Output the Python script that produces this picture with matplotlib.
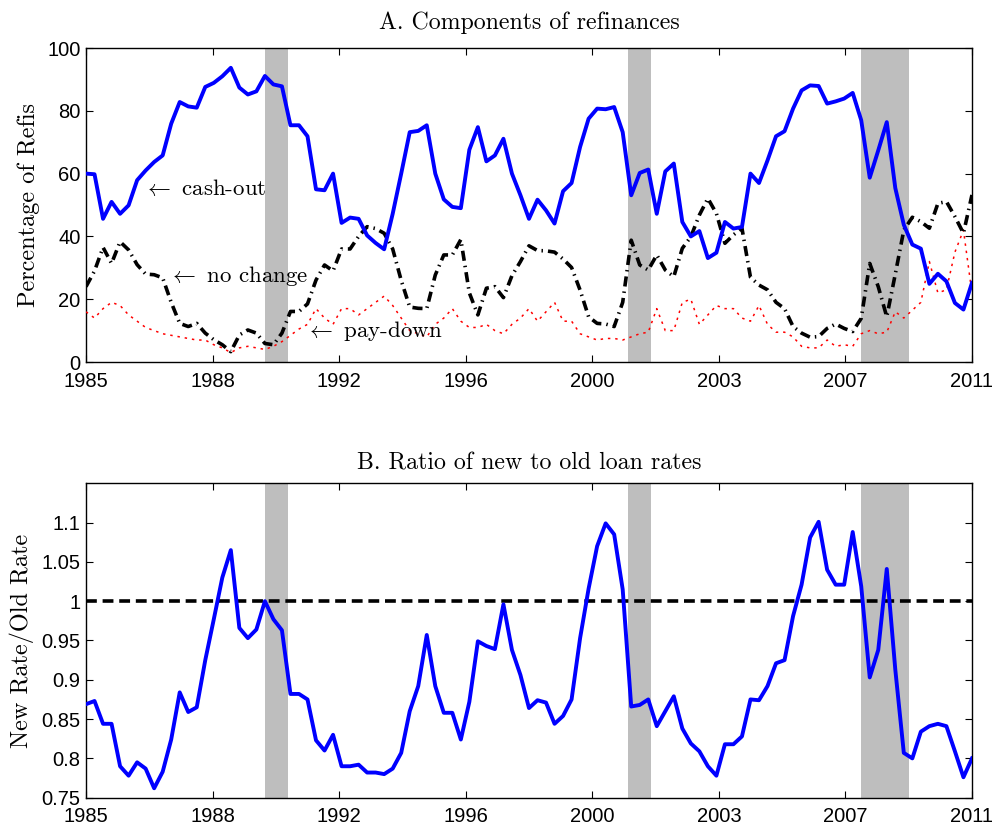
import numpy as np
import matplotlib
matplotlib.use('Agg')
import matplotlib.pyplot as plt

# quarterly series, 1985Q1 .. 2011Q1
start_year = 1985

cash_out = [60.0, 59.8, 45.6, 51.0, 47.2, 49.9, 57.9, 61.0, 63.7, 65.8,
            75.9, 82.8, 81.4, 81.0, 87.6, 88.9, 91.0, 93.7, 87.4, 85.2,
            86.2, 91.1, 88.4, 87.8, 75.4, 75.4, 71.9, 55.0, 54.7, 60.0,
            44.3, 46.0, 45.6, 40.3, 37.9, 35.9, 47.2, 60.0, 73.2, 73.6,
            75.4, 60.0, 51.8, 49.4, 49.0, 67.6, 74.8, 63.9, 65.8, 71.1,
            60.0, 53.1, 45.6, 51.7, 48.3, 44.1, 54.4, 57.0, 68.5, 77.5,
            80.7, 80.5, 81.2, 73.2, 53.1, 60.2, 61.3, 47.2, 60.7, 63.2,
            44.6, 40.0, 41.7, 33.1, 34.8, 44.6, 42.5, 43.0, 60.0, 57.0,
            64.2, 71.9, 73.5, 80.7, 86.5, 88.1, 87.9, 82.3, 83.0, 83.9,
            85.7, 77.0, 58.7, 67.4, 76.4, 55.4, 43.7, 37.4, 36.1, 24.9,
            28.1, 25.7, 18.8, 16.7, 25.2]

no_change = [24.0, 29.0, 36.5, 31.4, 38.3, 35.7, 31.0, 28.0, 27.8, 26.8,
             19.0, 12.3, 11.3, 12.3, 9.2, 7.1, 5.5, 3.3, 8.6, 10.2,
             9.2, 5.9, 5.5, 9.2, 16.1, 16.1, 18.5, 26.1, 30.9, 29.0,
             36.0, 36.0, 40.0, 43.1, 42.5, 41.0, 36.0, 26.0, 17.5, 17.1,
             17.0, 27.7, 34.1, 34.1, 39.0, 22.0, 15.0, 23.5, 24.0, 20.5,
             27.5, 32.0, 37.0, 35.5, 35.4, 35.0, 32.8, 30.1, 22.9, 14.4,
             12.3, 12.1, 11.3, 19.0, 38.8, 30.9, 29.3, 34.1, 29.3, 27.2,
             36.2, 39.9, 46.8, 52.1, 47.3, 37.8, 40.5, 42.6, 27.0, 24.5,
             23.0, 19.0, 17.0, 11.3, 9.2, 7.9, 8.1, 10.7, 12.1, 10.7,
             9.7, 13.9, 31.4, 24.0, 14.4, 28.0, 42.0, 46.1, 44.7, 42.6,
             50.5, 51.1, 46.3, 41.0, 53.2]

pay_down = [16.0, 14.0, 17.0, 19.0, 18.0, 15.0, 13.0, 11.0, 10.0, 9.0,
            8.5, 8.0, 7.5, 7.0, 7.0, 5.5, 4.5, 3.0, 4.5, 5.0,
            4.5, 4.0, 5.0, 6.5, 8.5, 10.5, 12.0, 17.0, 14.0, 12.0,
            17.0, 17.0, 15.0, 17.0, 19.0, 21.0, 18.0, 14.0, 10.0, 9.0,
            8.0, 12.0, 14.0, 17.0, 13.0, 11.0, 11.0, 12.0, 10.0, 9.0,
            12.0, 14.0, 17.0, 13.0, 16.0, 19.0, 13.0, 13.0, 9.0, 8.0,
            7.0, 7.5, 7.5, 7.0, 8.0, 9.0, 9.5, 17.0, 10.0, 10.0,
            19.0, 20.0, 12.0, 15.0, 18.0, 17.0, 17.0, 14.0, 13.0, 18.0,
            12.0, 9.5, 9.5, 8.0, 5.0, 4.5, 4.5, 7.0, 5.0, 5.5,
            5.0, 9.0, 10.0, 9.0, 9.5, 16.0, 14.0, 16.5, 19.0, 32.0,
            22.0, 23.0, 35.0, 42.0, 22.0]

rate_ratio = [0.869, 0.873, 0.844, 0.844, 0.790, 0.778, 0.795, 0.787, 0.762, 0.783,
              0.824, 0.884, 0.859, 0.865, 0.925, 0.977, 1.030, 1.065, 0.966, 0.953,
              0.964, 1.000, 0.977, 0.963, 0.882, 0.882, 0.875, 0.823, 0.810, 0.830,
              0.790, 0.790, 0.792, 0.782, 0.782, 0.780, 0.787, 0.807, 0.860, 0.892,
              0.957, 0.892, 0.858, 0.858, 0.824, 0.872, 0.949, 0.943, 0.939, 0.996,
              0.938, 0.906, 0.864, 0.874, 0.871, 0.844, 0.854, 0.875, 0.953, 1.016,
              1.070, 1.099, 1.085, 1.015, 0.866, 0.868, 0.875, 0.841, 0.860, 0.879,
              0.838, 0.819, 0.809, 0.790, 0.778, 0.818, 0.818, 0.828, 0.875, 0.874,
              0.892, 0.921, 0.925, 0.981, 1.021, 1.081, 1.101, 1.040, 1.021, 1.021,
              1.088, 1.019, 0.903, 0.938, 1.041, 0.913, 0.807, 0.800, 0.834, 0.841,
              0.844, 0.841, 0.809, 0.776, 0.800]

recessions = [(1990.25, 1990.92), (2000.90, 2001.58), (2007.75, 2009.16)]
tick_labels = ['1985', '1988', '1992', '1996', '2000', '2003', '2007', '2011']

t = start_year + np.arange(len(cash_out)) / 4.0

plt.rcParams['mathtext.fontset'] = 'cm'
serif = 'cmr10'
tickfont = 'Liberation Sans'

fig = plt.figure(figsize=(9.92, 8.25), dpi=100)


def style_axes(ax):
    ax.set_xlim(1985, 2011)
    ax.set_xticks(np.linspace(1985, 2011, 8))
    ax.set_xticklabels(tick_labels)
    ax.tick_params(direction='in', top=True, right=True, length=5, width=0.8,
                   labelsize=14.5)
    ax.tick_params(axis='x', pad=7)
    ax.tick_params(axis='y', pad=4)
    for lab in ax.get_xticklabels() + ax.get_yticklabels():
        lab.set_fontfamily(tickfont)
    for s in ax.spines.values():
        s.set_linewidth(1.0)
    for a, b in recessions:
        ax.axvspan(a, b, color='#bebebe', lw=0, zorder=1)


# Panel A
ax1 = fig.add_axes([0.0867, 0.5612, 0.8931, 0.3806])
ax1.plot(t, pay_down, color='red', lw=1.1, ls=(0, (1.6, 3.2)), zorder=3)
ax1.plot(t, no_change, color='black', lw=2.6, ls=(0, (2.8, 1.4, 0.4, 1.4)), zorder=3)
ax1.plot(t, cash_out, color='blue', lw=2.8, zorder=4)
ax1.set_ylim(0, 100)
ax1.set_yticks([0, 20, 40, 60, 80, 100])
style_axes(ax1)
ax1.set_title('A. Components of refinances', fontfamily=serif, fontsize=17.2, pad=14)
ax1.set_ylabel('Percentage of Refis', fontfamily=serif, fontsize=17.5, labelpad=5)
ax1.text(1986.67, 55.4, r'$\leftarrow$ cash-out', fontfamily=serif, fontsize=16.5,
         va='center', ha='left', zorder=5)
ax1.text(1987.42, 27.4, r'$\leftarrow$ no change', fontfamily=serif, fontsize=16.5,
         va='center', ha='left', zorder=5)
ax1.text(1991.43, 10.0, r'$\leftarrow$ pay-down', fontfamily=serif, fontsize=16.5,
         va='center', ha='left', zorder=5)

# Panel B
ax2 = fig.add_axes([0.0867, 0.0331, 0.8931, 0.3811])
ax2.axhline(1.0, color='black', lw=2.6, ls=(0, (3.0, 1.6)), zorder=3)
ax2.plot(t, rate_ratio, color='blue', lw=2.8, zorder=4)
ax2.set_ylim(0.75, 1.15)
ax2.set_yticks([0.75, 0.8, 0.85, 0.9, 0.95, 1.0, 1.05, 1.1])
ax2.set_yticklabels(['0.75', '0.8', '0.85', '0.9', '0.95', '1', '1.05', '1.1'])
style_axes(ax2)
ax2.set_title('B. Ratio of new to old loan rates', fontfamily=serif, fontsize=17.2, pad=10)
ax2.set_ylabel('New Rate/Old Rate', fontfamily=serif, fontsize=17.5, labelpad=5)

fig.savefig('out.png', dpi=100)
